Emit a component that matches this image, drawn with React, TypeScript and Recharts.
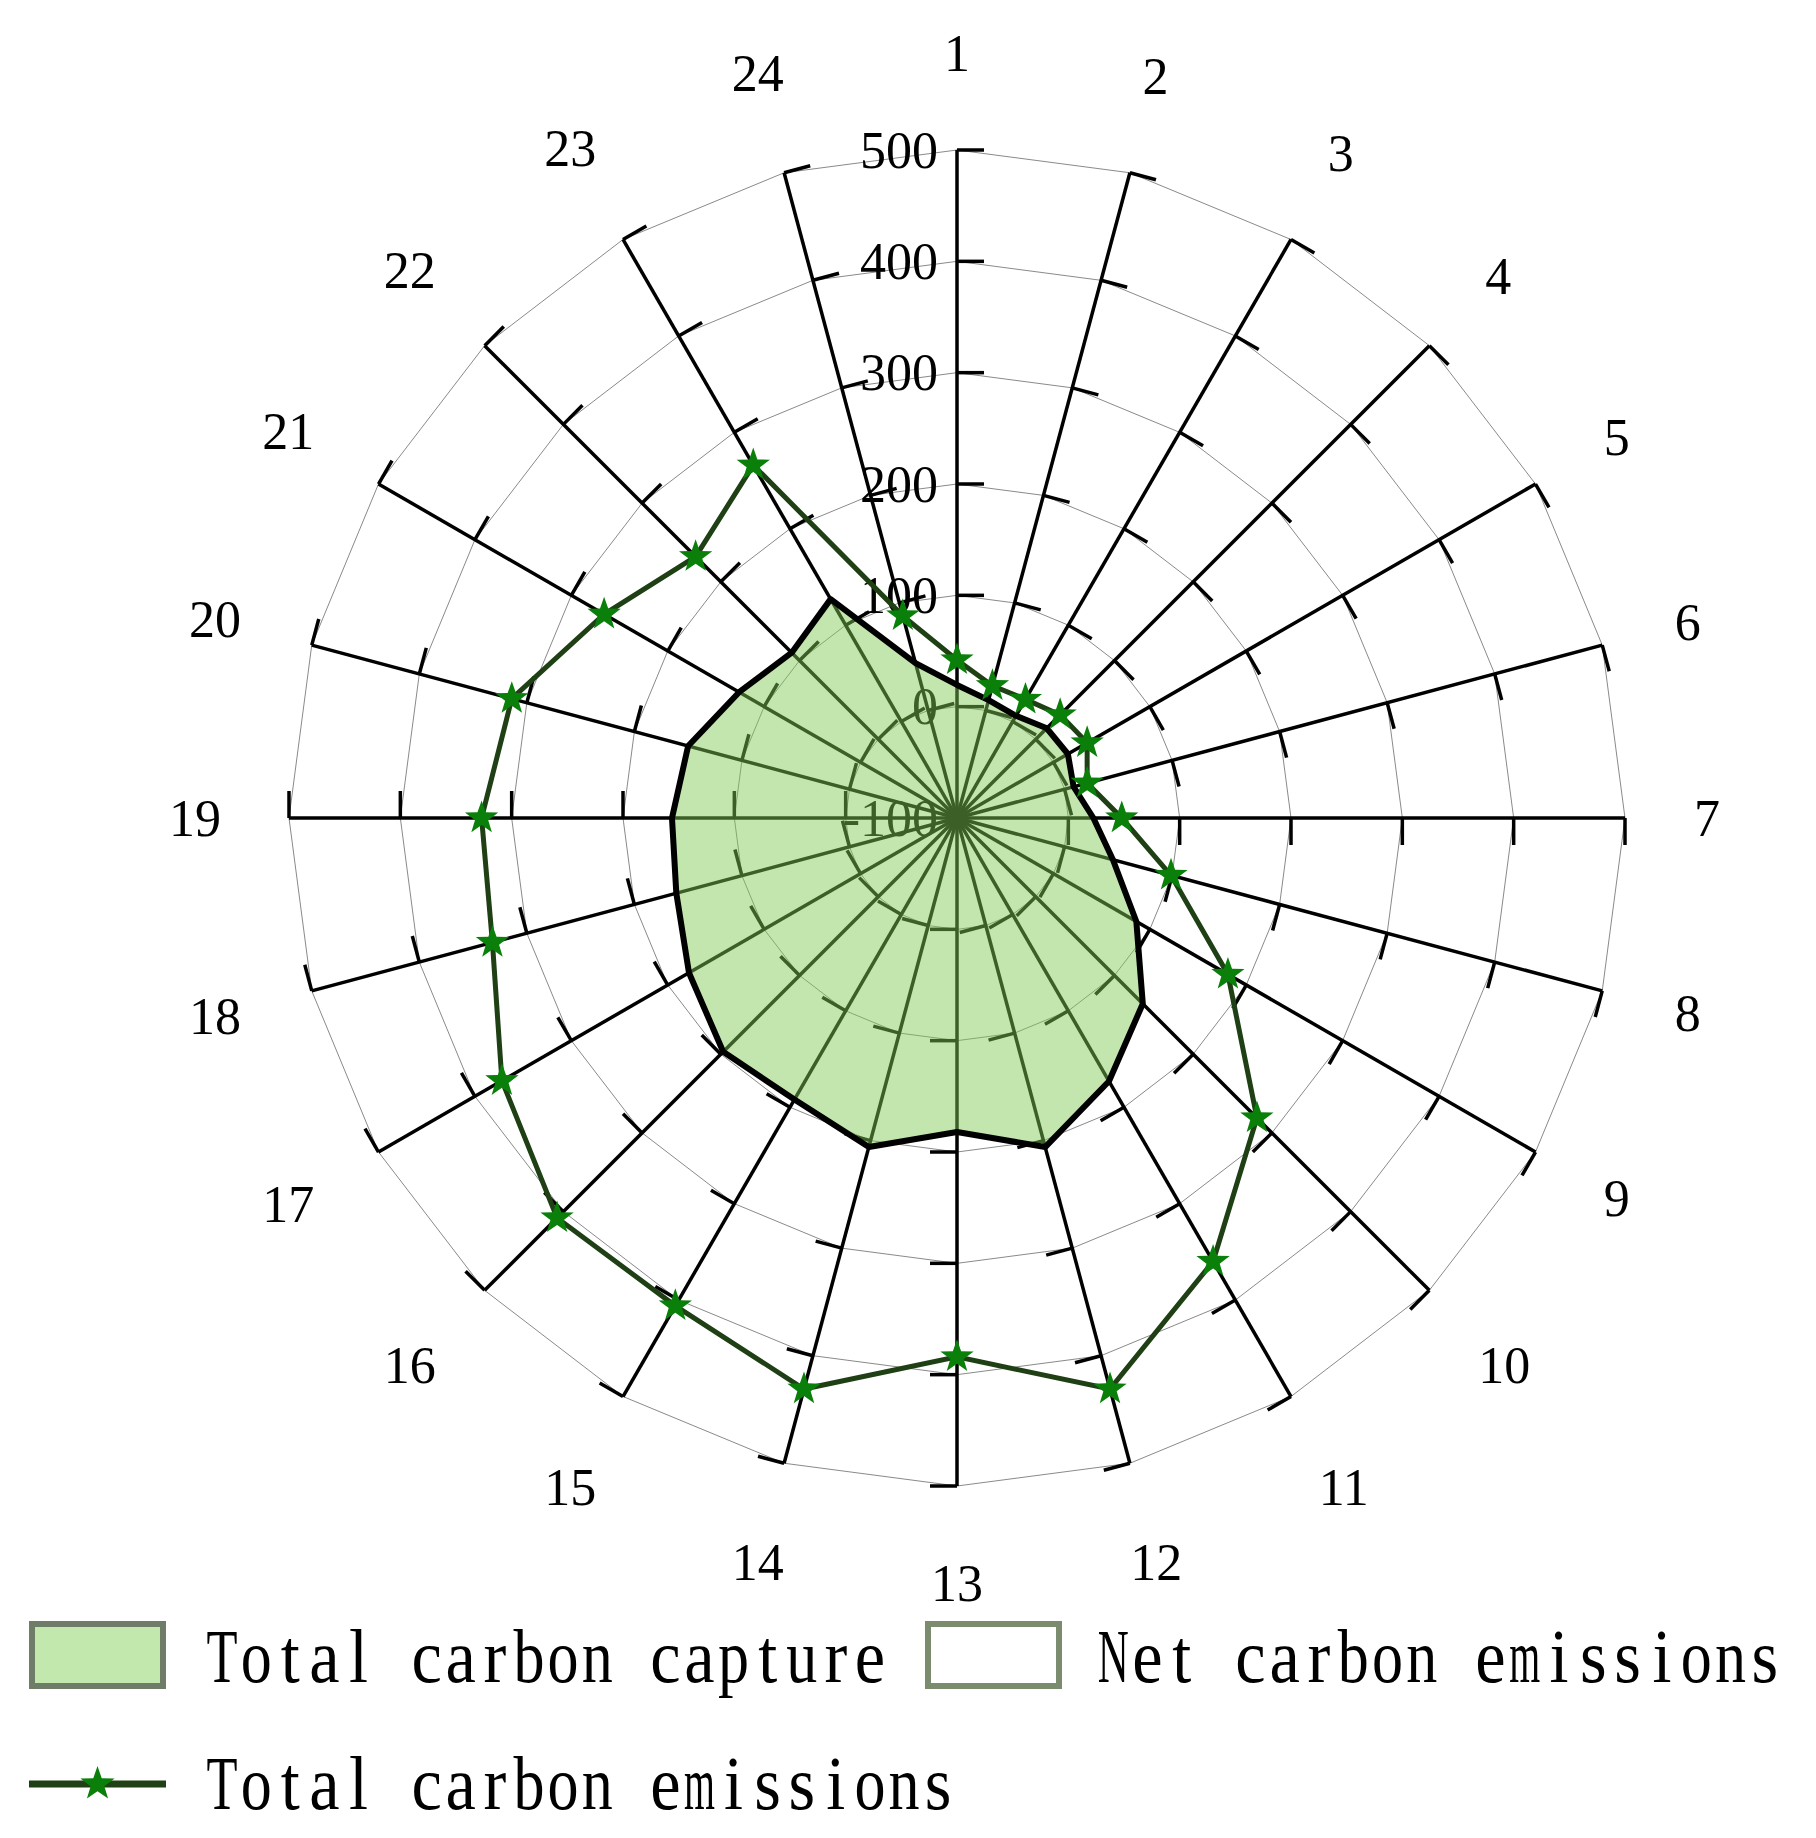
import React from 'react';
import { RadarChart, Radar, PolarGrid, PolarAngleAxis, PolarRadiusAxis } from 'recharts';

const hours = ['1', '2', '3', '4', '5', '6', '7', '8', '9', '10', '11', '12', '13', '14', '15', '16', '17', '18', '19', '20', '21', '22', '23', '24'];
const totalCarbonCapture = [19.5, 9.6, 6, 14, 15, 8.4, 22.5, 45, 86, 136, 173, 206, 182, 206, 192, 197, 178, 161, 156, 150, 126, 110, 127, 44];
const totalCarbonEmissions = [42, 23, 23, 31, 35, 21, 48, 99, 181, 281, 360, 431, 384, 431, 406, 408, 372, 332, 327, 314, 266, 232, 266, 88];
const radiusTicks = [-100, 0, 100, 200, 300, 400, 500];
const legendLabels = ['Total carbon capture', 'Net carbon emissions', 'Total carbon emissions'];

const data = hours.map((h, i) => ({
  hour: h,
  capture: totalCarbonCapture[i],
  emissions: totalCarbonEmissions[i],
}));

const W = 1800;
const H = 1822;
const CX = 949;
const CY = 810;
const R = 668;
const LABEL_GAP = 738;
const TICK_LEN = 27;
const SERIF = "'Liberation Serif', 'Times New Roman', serif";

const spokeAngles = hours.map((_, i) => 90 - 15 * i);

// approximate Times glyph advance widths (em) used to fit each glyph into a fixed cell
const glyphWidth: Record<string, number> = {
  T: 0.611, N: 0.722, o: 0.5, t: 0.278, a: 0.444, l: 0.278, c: 0.444, r: 0.333, b: 0.5, n: 0.5,
  p: 0.5, u: 0.5, e: 0.444, m: 0.778, i: 0.278, s: 0.389,
};

const starPath = (cx: number, cy: number, ro: number, ri: number) => {
  let d = '';
  for (let i = 0; i < 10; i++) {
    const a = -Math.PI / 2 + (i * Math.PI) / 5;
    const rr = i % 2 === 0 ? ro : ri;
    d += (i === 0 ? 'M' : 'L') + (cx + rr * Math.cos(a)).toFixed(2) + ',' + (cy + rr * Math.sin(a)).toFixed(2);
  }
  return d + 'Z';
};

const StarDot = (props: any) => {
  const { cx, cy, index } = props;
  if (cx == null || cy == null) return <g key={'s' + index} />;
  return <path key={'s' + index} d={starPath(cx, cy, 17.5, 7)} fill="#0a800a" stroke="none" />;
};

const AngleTick = (props: any) => {
  const { x, y, payload } = props;
  const dx = x - CX;
  const dy = y - CY;
  const d = Math.sqrt(dx * dx + dy * dy) || 1;
  const ux = dx / d;
  const uy = dy / d;
  const label = String(payload.value);
  const hw = label.length * 12;
  const hh = 27;
  const c = LABEL_GAP + hw * Math.abs(ux) + hh * Math.abs(uy);
  const tx = CX + ux * c;
  const ty = CY + uy * c;
  return (
    <text x={tx} y={ty} textAnchor="middle" dominantBaseline="central" fontFamily={SERIF} fontSize={52} fill="#000">
      {label}
    </text>
  );
};

const makeRadiusTick = (angle: number, showLabel: boolean) => (props: any) => {
  const { x, y, payload } = props;
  const rad = (angle * Math.PI) / 180;
  const ux = Math.sin(rad);
  const uy = Math.cos(rad);
  return (
    <g>
      {payload.value !== -100 && (
        <line x1={x} y1={y} x2={x + TICK_LEN * ux} y2={y + TICK_LEN * uy} stroke="#000" strokeWidth={3.5} />
      )}
      {showLabel && (
        <text x={x - 19} y={y} textAnchor="end" dominantBaseline="central" fontFamily={SERIF} fontSize={52} fill="#000">
          {payload.value}
        </text>
      )}
    </g>
  );
};

const FS = 76;
const MonoText = ({ x0, y, label, adv }: { x0: number; y: number; label: string; adv: number }) => (
  <g>
    {label.split('').map((ch, i) => {
      if (ch === ' ') return null;
      const w = (glyphWidth[ch] ?? 0.5) * FS;
      const s = Math.min(0.9, 31 / w);
      const cx = x0 + (i + 0.5) * adv;
      return (
        <text
          key={i}
          transform={`translate(${cx.toFixed(2)},${y}) scale(${s.toFixed(3)},1)`}
          x={0}
          y={0}
          textAnchor="middle"
          fontFamily={SERIF}
          fontSize={FS}
          fill="#000"
        >
          {ch}
        </text>
      );
    })}
  </g>
);

const Legend = () => (
  <svg width={W} height={H} style={{ position: 'absolute', left: 0, top: 0, pointerEvents: 'none' }}>
    <rect x={24} y={1616} width={131} height={62} fill="#c2e8ad" stroke="#6f7d68" strokeWidth={6} />
    <MonoText x0={197} y={1674} label={legendLabels[0]} adv={34.1} />
    <rect x={920} y={1616} width={131} height={62} fill="#ffffff" stroke="#7a8b6e" strokeWidth={6} />
    <MonoText x0={1088} y={1674} label={legendLabels[1]} adv={34.3} />
    <line x1={21} y1={1776} x2={158} y2={1776} stroke="#1f3f14" strokeWidth={7} />
    <path d={starPath(89.5, 1776, 18, 7.2)} fill="#0a800a" />
    <MonoText x0={197} y={1801} label={legendLabels[2]} adv={34.1} />
  </svg>
);

export default function App() {
  return (
    <div style={{ position: 'relative', width: W, height: H }}>
      <RadarChart
        width={W}
        height={H}
        data={data}
        cx={CX}
        cy={CY}
        outerRadius={R}
        innerRadius={0}
        startAngle={90}
        endAngle={-270}
        margin={{ top: 0, right: 0, bottom: 0, left: 0 }}
      >
        <PolarGrid gridType="polygon" radialLines={false} stroke="#8a8a8a" strokeWidth={1} />
        <PolarAngleAxis dataKey="hour" tick={AngleTick} tickLine={false} axisLine={false} />
        {spokeAngles.map((a, i) => (
          <PolarRadiusAxis
            key={'ax' + i}
            angle={a}
            domain={[-100, 500]}
            ticks={radiusTicks as any}
            tickCount={7}
            type="number"
            axisLine={{ stroke: '#000', strokeWidth: 3.5 }}
            tick={makeRadiusTick(a, i === 0)}
            {...({ zIndex: 50 } as any)}
          />
        ))}
        <Radar
          dataKey="capture"
          name={legendLabels[0]}
          stroke="#000"
          strokeWidth={6}
          strokeLinejoin="round"
          fill="#80ca55"
          fillOpacity={0.47}
          dot={false}
          isAnimationActive={false}
          {...({ zIndex: 100 } as any)}
        />
        <Radar
          dataKey="emissions"
          name={legendLabels[2]}
          stroke="#1f3f14"
          strokeWidth={5}
          fill="none"
          fillOpacity={0}
          dot={StarDot}
          isAnimationActive={false}
          {...({ zIndex: 110 } as any)}
        />
      </RadarChart>
      <Legend />
    </div>
  );
}
